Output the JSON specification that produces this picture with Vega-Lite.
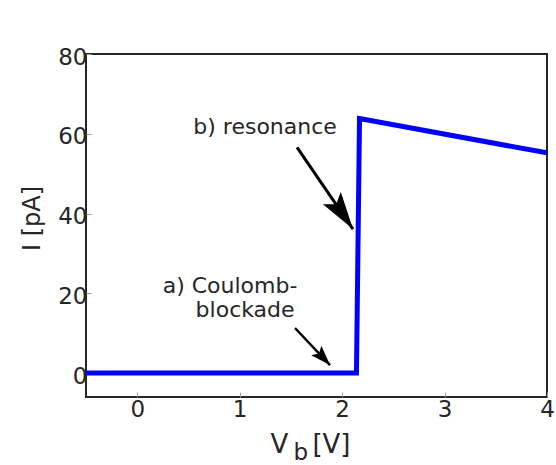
{
  "$schema": "https://vega.github.io/schema/vega-lite/v6.json",
  "width": 461,
  "height": 343,
  "autosize": "none",
  "padding": {"left": 86, "top": 54, "right": 9, "bottom": 68},
  "background": "white",
  "config": {
    "font": "DejaVu Sans",
    "view": {"stroke": "#262626", "strokeWidth": 2},
    "axis": {
      "grid": false,
      "domain": false,
      "ticks": true,
      "tickColor": "#9a9a9a",
      "tickSize": -5,
      "labelFont": "DejaVu Sans",
      "labelFontSize": 23,
      "labelColor": "#262626",
      "titleFont": "DejaVu Sans",
      "titleFontWeight": "normal",
      "titleColor": "#262626"
    }
  },
  "datasets": {
    "curve": [
      {"V": -0.5, "I": 0},
      {"V": 2.14, "I": 0},
      {"V": 2.17, "I": 63.8},
      {"V": 4.0, "I": 55.2}
    ],
    "arrows": [
      {"arrow": "a", "V1": 1.54, "I1": 11.3, "V2": 1.882, "I2": 2.0},
      {"arrow": "b", "V1": 1.56, "I1": 56.6, "V2": 2.106, "I2": 36.1}
    ],
    "labels": [
      {"text": "b) resonance", "V": 1.248, "I": 61.7},
      {"text": "a) Coulomb-", "V": 0.906, "I": 21.9},
      {"text": "blockade", "V": 1.053, "I": 15.8}
    ],
    "xtitle": [
      {"part": "V", "V": 1.3, "I": -6},
      {"part": "b", "V": 1.525, "I": -6},
      {"part": "[V]", "V": 1.71, "I": -6}
    ]
  },
  "encoding": {
    "x": {"type": "quantitative"},
    "y": {"type": "quantitative"}
  },
  "layer": [
    {
      "data": {"name": "curve"},
      "mark": {"type": "line", "color": "#0000ff", "strokeWidth": 5, "clip": true},
      "encoding": {
        "x": {
          "field": "V", "type": "quantitative",
          "scale": {"domain": [-0.5, 4], "nice": false, "zero": false},
          "axis": {"values": [0, 1, 2, 3, 4], "format": "d", "title": null, "labelPadding": 6, "labelFlush": false}
        },
        "y": {
          "field": "I", "type": "quantitative",
          "scale": {"domain": [-6, 80], "nice": false, "zero": false},
          "axis": {
            "values": [0, 20, 40, 60, 80],
            "format": "d",
            "title": "I [pA]",
            "titleFontSize": 24,
            "titleAngle": -90,
            "titleBaseline": "middle",
            "titleX": -54,
            "titleY": 164,
            "labelPadding": 4,
            "labelOffset": 3,
            "labelFlush": false
          }
        }
      }
    },
    {
      "data": {"name": "arrows"},
      "transform": [{"filter": "datum.arrow === 'a'"}],
      "mark": {"type": "rule", "color": "black", "strokeWidth": 2.5},
      "encoding": {
        "x": {"field": "V1", "type": "quantitative"},
        "y": {"field": "I1", "type": "quantitative"},
        "x2": {"field": "V2"},
        "y2": {"field": "I2"}
      }
    },
    {
      "data": {"name": "arrows"},
      "transform": [{"filter": "datum.arrow === 'b'"}],
      "mark": {"type": "rule", "color": "black", "strokeWidth": 3},
      "encoding": {
        "x": {"field": "V1", "type": "quantitative"},
        "y": {"field": "I1", "type": "quantitative"},
        "x2": {"field": "V2"},
        "y2": {"field": "I2"}
      }
    },
    {
      "data": {"name": "arrows"},
      "transform": [{"filter": "datum.arrow === 'a'"}],
      "mark": {"type": "point", "shape": "M0,0L0.7,2L0,1.6L-0.7,2Z", "filled": true, "color": "black", "opacity": 1, "size": 400, "angle": 136.6},
      "encoding": {
        "x": {"field": "V2", "type": "quantitative"},
        "y": {"field": "I2", "type": "quantitative"}
      }
    },
    {
      "data": {"name": "arrows"},
      "transform": [{"filter": "datum.arrow === 'b'"}],
      "mark": {"type": "point", "shape": "M0,0L0.58,2L0,1.6L-0.58,2Z", "filled": true, "color": "black", "opacity": 1, "size": 1400, "angle": 145.7},
      "encoding": {
        "x": {"field": "V2", "type": "quantitative"},
        "y": {"field": "I2", "type": "quantitative"}
      }
    },
    {
      "data": {"name": "labels"},
      "mark": {"type": "text", "fontSize": 22, "align": "center", "baseline": "middle", "color": "#262626"},
      "encoding": {
        "x": {"field": "V", "type": "quantitative"},
        "y": {"field": "I", "type": "quantitative"},
        "text": {"field": "text"}
      }
    },
    {
      "data": {"name": "xtitle"},
      "transform": [{"filter": "datum.part !== 'b'"}],
      "mark": {"type": "text", "fontSize": 26, "align": "left", "baseline": "alphabetic", "dy": 56, "color": "#262626"},
      "encoding": {
        "x": {"field": "V", "type": "quantitative"},
        "y": {"field": "I", "type": "quantitative"},
        "text": {"field": "part"}
      }
    },
    {
      "data": {"name": "xtitle"},
      "transform": [{"filter": "datum.part === 'b'"}],
      "mark": {"type": "text", "fontSize": 23, "align": "left", "baseline": "alphabetic", "dy": 63, "color": "#262626"},
      "encoding": {
        "x": {"field": "V", "type": "quantitative"},
        "y": {"field": "I", "type": "quantitative"},
        "text": {"field": "part"}
      }
    }
  ]
}
